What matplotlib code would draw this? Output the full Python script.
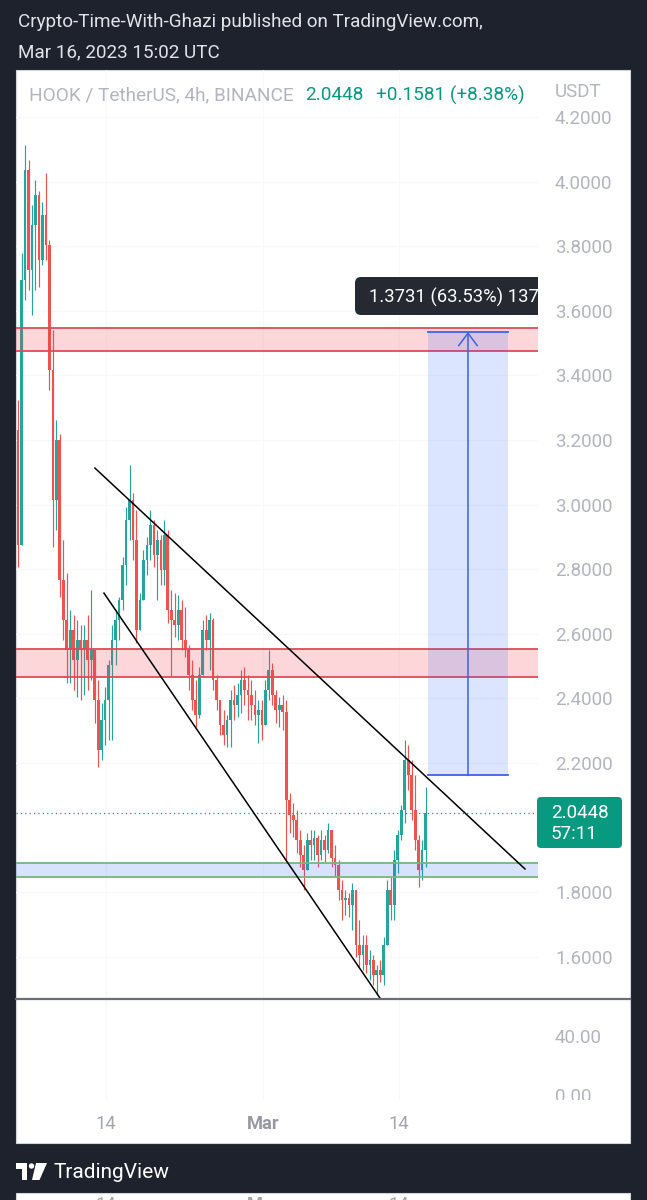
import matplotlib
matplotlib.use("Agg")
import matplotlib.pyplot as plt
from matplotlib.patches import Rectangle, FancyBboxPatch, Polygon, Circle
from matplotlib.lines import Line2D
from matplotlib.transforms import Affine2D
import numpy as np

plt.rcParams['font.family'] = ['Roboto', 'DejaVu Sans']

# ---------------------------------------------------------------- data
# candle times in days relative to 1 Mar 2023 00:00 UTC
candle_start_day = -23.44
candle_step_day = 1 / 3
first_open = 3.231
highs = [3.324, 3.779, 4.113, 4.067, 3.928, 4.005, 3.970, 3.937, 4.027, 3.819,
         3.541, 3.262, 3.220, 2.890, 2.788, 2.674, 2.658, 2.643, 2.627, 2.627,
         2.658, 2.736, 2.550, 2.457, 2.386, 2.435, 2.519, 2.627, 2.674, 2.714,
         2.838, 2.993, 3.123, 3.036, 2.983, 2.726, 2.859, 2.900, 2.983, 2.952,
         2.921, 2.906, 2.952, 2.921, 2.736, 2.726, 2.720, 2.705, 2.683, 2.565,
         2.519, 2.457, 2.497, 2.643, 2.658, 2.664, 2.649, 2.472, 2.395, 2.364,
         2.349, 2.426, 2.441, 2.448, 2.488, 2.497, 2.472, 2.457, 2.426, 2.395,
         2.395, 2.457, 2.550, 2.510, 2.426, 2.404, 2.411, 2.395, 2.107, 2.076,
         2.054, 1.993, 1.946, 1.983, 1.993, 1.993, 1.977, 1.993, 1.977, 2.014,
         1.993, 1.946, 1.900, 1.838, 1.807, 1.798, 1.828, 1.807, 1.714, 1.667,
         1.667, 1.621, 1.606, 1.575, 1.590, 1.661, 1.838, 1.847, 1.931, 1.993,
         2.070, 2.271, 2.256, 2.209, 2.163, 1.977, 1.962, 2.126]
lows = [2.807, 2.875, 3.633, 3.664, 3.587, 3.664, 3.674, 3.742, 3.757, 3.355,
        2.869, 2.921, 2.714, 2.581, 2.448, 2.448, 2.426, 2.404, 2.395, 2.411,
        2.426, 2.457, 2.324, 2.188, 2.209, 2.256, 2.271, 2.271, 2.503, 2.581,
        2.674, 2.751, 2.890, 2.828, 2.572, 2.612, 2.705, 2.782, 2.828, 2.807,
        2.705, 2.751, 2.751, 2.633, 2.466, 2.590, 2.581, 2.550, 2.528, 2.426,
        2.364, 2.311, 2.340, 2.472, 2.550, 2.488, 2.426, 2.364, 2.287, 2.256,
        2.250, 2.250, 2.333, 2.342, 2.355, 2.380, 2.333, 2.333, 2.318, 2.262,
        2.271, 2.318, 2.395, 2.380, 2.324, 2.311, 2.302, 1.890, 1.983, 1.971,
        1.921, 1.878, 1.807, 1.869, 1.900, 1.900, 1.878, 1.900, 1.893, 1.921,
        1.878, 1.847, 1.776, 1.714, 1.729, 1.723, 1.683, 1.599, 1.568, 1.559,
        1.550, 1.528, 1.513, 1.482, 1.522, 1.513, 1.637, 1.714, 1.714, 1.859,
        1.962, 2.014, 2.116, 2.024, 1.931, 1.816, 1.838, 1.878]
closes = [2.875, 3.695, 4.036, 3.726, 3.866, 3.958, 3.757, 3.897, 3.804, 3.417,
          3.014, 3.200, 2.767, 2.643, 2.550, 2.612, 2.519, 2.581, 2.550, 2.581,
          2.519, 2.550, 2.395, 2.240, 2.333, 2.395, 2.503, 2.581, 2.643, 2.705,
          2.813, 2.952, 3.014, 2.890, 2.612, 2.705, 2.828, 2.875, 2.937, 2.844,
          2.890, 2.798, 2.906, 2.674, 2.643, 2.627, 2.674, 2.581, 2.550, 2.472,
          2.395, 2.349, 2.472, 2.612, 2.581, 2.643, 2.457, 2.395, 2.318, 2.287,
          2.333, 2.395, 2.380, 2.411, 2.457, 2.426, 2.411, 2.380, 2.349, 2.364,
          2.318, 2.426, 2.488, 2.411, 2.364, 2.380, 2.358, 2.085, 2.039, 2.024,
          1.962, 1.915, 1.869, 1.962, 1.946, 1.968, 1.915, 1.962, 1.931, 1.993,
          1.906, 1.884, 1.807, 1.776, 1.782, 1.760, 1.807, 1.637, 1.606, 1.637,
          1.575, 1.590, 1.544, 1.559, 1.544, 1.637, 1.807, 1.760, 1.900, 1.977,
          2.054, 2.209, 2.163, 2.054, 1.962, 1.869, 1.931, 2.0448]

price_ticks = [4.2, 4.0, 3.8, 3.6, 3.4, 3.2, 3.0, 2.8, 2.6, 2.4, 2.2, 1.8, 1.6]
time_tick_days = [-15, 0, 13]
time_tick_labels = ["14", "Mar", "14"]
lower_pane_ticks = [40, 0]
lower_pane_labels = ["40.00", "0.00"]

last_price = 2.0448
last_price_text = "2.0448"
countdown_text = "57:11"
change_text = "+0.1581 (+8.38%)"
symbol_text = "HOOK / TetherUS, 4h, BINANCE"
quote_text = "USDT"
publisher_line1 = "Crypto-Time-With-Ghazi published on TradingView.com,"
publisher_line2 = "Mar 16, 2023 15:02 UTC"

resistance_high = [3.476, 3.547]
resistance_mid = [2.466, 2.553]
support_zone = [1.847, 1.890]
upper_trend_days = [-16.08, 25.07]
upper_trend_prices = [3.113, 1.872]
lower_trend_days = [-15.22, 11.20]
lower_trend_prices = [2.726, 1.472]
range_days = [15.79, 23.44]
range_prices = [2.1614, 3.5345]
range_label = "1.3731 (63.53%) 13731"

# ---------------------------------------------------------------- layout
W, H = 647, 1200
BG = '#1e222d'
UP, DOWN = '#26a69a', '#ef5350'
AXIS_TXT = '#b2b5be'
GRID = '#f7f8fa'
TEAL = '#089981'

PX_PER_DAY = 10.45
MAR1_PX = 263
PX_PER_PRICE = 323.0
P42_PY = 117


def day_at(px):
    return (px - MAR1_PX) / PX_PER_DAY


def price_at(py):
    return 4.2 - (py - P42_PY) / PX_PER_PRICE


fig = plt.figure(figsize=(W / 100, H / 100), dpi=100, facecolor=BG)
pix = Affine2D().scale(1 / W, -1 / H).translate(0, 1) + fig.transFigure


def fx(px):
    return px / W


def fy(py):
    return 1 - py / H


# white chart panel
fig.add_artist(Rectangle((16, 70), 614, 1073, transform=pix, facecolor='white',
                         edgecolor='#d1d4dc', lw=0.8, zorder=-5))
# bottom sliver of next panel
fig.add_artist(Rectangle((16, 1193), 614, 12, transform=pix, facecolor='white',
                         edgecolor='#d1d4dc', lw=0.8, zorder=-5))

# ---------------------------------------------------------------- price pane
ax = fig.add_axes([fx(16), fy(999), fx(538) - fx(16), fy(70) - fy(999)])
ax.set_facecolor('none')
for s in ax.spines.values():
    s.set_visible(False)

n = len(closes)
xs = candle_start_day + candle_step_day * np.arange(n)
c = np.array(closes)
o = np.r_[first_open, c[:-1]]
hi = np.array(highs)
lo = np.array(lows)
cols = np.where(c >= o, UP, DOWN)
ax.vlines(xs, lo, hi, colors=cols, lw=0.85, zorder=3)
ax.bar(xs, np.maximum(np.abs(c - o), 0.003), bottom=np.minimum(o, c), width=0.26,
       color=cols, linewidth=0, zorder=3)

# zones
for lo_, hi_ in (resistance_high, resistance_mid):
    ax.axhspan(lo_, hi_, facecolor='#f23645', alpha=0.2, lw=0, zorder=4)
    for v in (lo_, hi_):
        ax.axhline(v, color='#e04a57', lw=1.3, zorder=4)
ax.axhspan(support_zone[0], support_zone[1], facecolor='#2962ff', alpha=0.18, lw=0, zorder=4)
for v in support_zone:
    ax.axhline(v, color='#76b878', lw=1.3, zorder=4)

# trend lines
ax.plot(upper_trend_days, upper_trend_prices, color='black', lw=1.1, zorder=5)
ax.plot(lower_trend_days, lower_trend_prices, color='black', lw=1.1, zorder=5)

# price range tool
ax.add_patch(Rectangle((range_days[0], range_prices[0]), range_days[1] - range_days[0],
                       range_prices[1] - range_prices[0], facecolor='#2962ff', alpha=0.16,
                       lw=0, zorder=4))
for v in range_prices:
    ax.plot(range_days, [v, v], color='#3b63e6', lw=1.3, zorder=5)
mid_day = (range_days[0] + range_days[1]) / 2
ax.annotate('', xy=(mid_day, range_prices[1]), xytext=(mid_day, range_prices[0]),
            arrowprops=dict(arrowstyle='->,head_length=0.6,head_width=0.45', color='#3b63e6',
                            lw=1.1, shrinkA=0, shrinkB=0, mutation_scale=15), zorder=5)

# tooltip of the range tool (clipped at price scale)
tip = FancyBboxPatch((355, 277), 240, 38, boxstyle='round,pad=0,rounding_size=6',
                     transform=pix, facecolor='#252932', edgecolor='none', zorder=7)
ax.add_patch(tip)
ax.text(369, 297, range_label, transform=pix, color='white', fontsize=13.3,
        va='center', ha='left', clip_on=True, zorder=8)

# last price line
ax.axhline(last_price, color=TEAL, lw=0.9, ls=(0, (1, 2.5)), zorder=2)

ax.set_xlim(day_at(16), day_at(538))
ax.set_ylim(price_at(999), price_at(70))
ax.yaxis.tick_right()
ax.set_yticks(price_ticks)
ax.set_yticklabels([f'{v:.4f}' for v in price_ticks])
ax.tick_params(axis='y', length=0, pad=12.2, labelsize=13.5, labelcolor=AXIS_TXT)
ax.set_xticks(time_tick_days)
ax.tick_params(axis='x', length=0, labelbottom=False)
ax.grid(True, color=GRID, lw=0.8)
ax.set_axisbelow(True)

# ---------------------------------------------------------------- lower pane
vax = fig.add_axes([fx(16), fy(1100), fx(630) - fx(16), fy(999) - fy(1100)])
vax.set_facecolor('none')
for s in vax.spines.values():
    s.set_visible(False)
vax.set_xlim(day_at(16), day_at(630))
vax.set_ylim(-2.0, 66.4)
vax.set_xticks(time_tick_days)
vax.set_xticklabels(time_tick_labels)
vax.tick_params(axis='x', length=0, pad=10.5, labelsize=13.2, labelcolor='#a3a6af')
vax.get_xticklabels()[1].set_fontweight('bold')
vax.get_xticklabels()[1].set_color('#9598a1')
vax.set_yticks([])
vax.grid(axis='x', color=GRID, lw=0.8)
for v, s in zip(lower_pane_ticks, lower_pane_labels):
    vax.text(day_at(555), v, s, color=AXIS_TXT, fontsize=13.5, va='center', ha='left',
             clip_on=True)

# pane separator
fig.add_artist(Line2D([16, 630], [999, 999], transform=pix, color='#6b6e78', lw=1.6))

# ---------------------------------------------------------------- labels
fig.text(18, 22, publisher_line1, transform=pix, color='#e1e3ea', fontsize=13.6, va='center')
fig.text(18, 52, publisher_line2, transform=pix, color='#e1e3ea', fontsize=13.6, va='center')
fig.text(29, 95, symbol_text, transform=pix, color=AXIS_TXT, fontsize=13.7, va='center')
fig.text(305, 95, last_price_text, transform=pix, color=TEAL, fontsize=13.7, va='center')
fig.text(376, 95, change_text, transform=pix, color=TEAL, fontsize=13.7, va='center')
fig.text(555, 92, quote_text, transform=pix, color=AXIS_TXT, fontsize=13.5, va='center')

# last price label
fig.add_artist(FancyBboxPatch((537, 797), 85, 51, boxstyle='round,pad=0,rounding_size=4',
                              transform=pix, facecolor=TEAL, edgecolor='none', zorder=6))
fig.text(551, 813, last_price_text, transform=pix, color='white', fontsize=13.5,
         va='center', zorder=7)
fig.text(551, 834, countdown_text, transform=pix, color='white', fontsize=13.5,
         va='center', zorder=7)

# TradingView footer logo
fig.add_artist(Polygon([(16, 1163), (27, 1163), (27, 1180), (21.5, 1180), (21.5, 1168.5),
                        (16, 1168.5)], closed=True, transform=pix, facecolor='white',
                       edgecolor='none'))
fig.add_artist(Circle((31.5, 1166), 2.7, transform=pix, facecolor='white', edgecolor='none'))
fig.add_artist(Polygon([(36, 1163), (47, 1163), (39.5, 1180), (32, 1180)], closed=True,
                       transform=pix, facecolor='white', edgecolor='none'))
fig.text(53, 1172, "TradingView", transform=pix, color='white', fontsize=15, va='center')

# cut-off time labels of the next panel (reference shows only their tops)
for d, s in zip(time_tick_days, time_tick_labels):
    fig.text(MAR1_PX + d * PX_PER_DAY, 1205, s, transform=pix, color='#a3a6af',
             fontsize=13.2, va='center', ha='center',
             fontweight='bold' if s == 'Mar' else 'normal')

fig.savefig('out.png', dpi=100, facecolor=BG)
